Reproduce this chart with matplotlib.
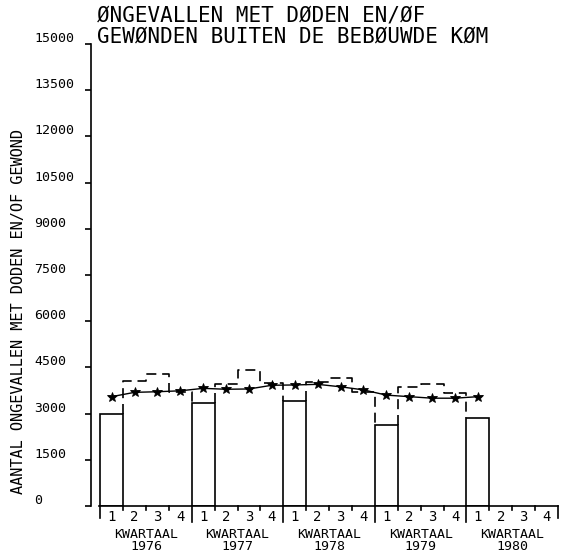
import matplotlib
matplotlib.use("Agg")
import matplotlib.pyplot as plt
import matplotlib.transforms as mtrans
import numpy as np

# ---------------------------------------------------------------------------
# Data: accidents with deaths and/or injuries outside built-up areas
# ---------------------------------------------------------------------------
years = ["1976", "1977", "1978", "1979", "1980"]
quarters = ["1", "2", "3", "4"]

# first-quarter counts (solid bars)
q1_counts = [2980, 3350, 3400, 2640, 2850]

# quarters 2-4 (dashed outline), for 1976-1979
q2_counts = [4070, 3960, 4020, 3870]
q3_counts = [4290, 4420, 4150, 3960]
q4_counts = [3710, 4000, 3710, 3660]

# smoothed trend, one value per quarter from 1976-Q1 up to 1980-Q1
trend = [3550, 3690, 3710, 3740,
         3820, 3790, 3800, 3920,
         3930, 3950, 3870, 3770,
         3600, 3550, 3500, 3500,
         3550]

y_ticks = [0, 1500, 3000, 4500, 6000, 7500, 9000, 10500, 12000, 13500, 15000]

TITLE = "ØNGEVALLEN MET DØDEN EN/ØF\nGEWØNDEN BUITEN DE BEBØUWDE KØM"
YLABEL = "AANTAL ONGEVALLEN MET DODEN EN/OF GEWOND"

MONO = "DejaVu Sans Mono"
INK = "black"
LW = 1.2

W, H = 572, 553
fig = plt.figure(figsize=(W / 100, H / 100), dpi=100, facecolor="white")

# axes: y axis at x=91px, 0 at y=506px, 15000 at y=44px
ax = fig.add_axes([91 / W, 47 / H, 468 / W, 462 / H])
ax.set_xlim(-0.4, 20.04)
ax.set_ylim(0, 15000)
ax.set_facecolor("white")
for side in ("top", "right", "bottom"):
    ax.spines[side].set_visible(False)
ax.spines["left"].set_linewidth(LW)
ax.spines["left"].set_color(INK)
ax.set_xticks([])
ax.set_yticks(y_ticks)
ax.set_yticklabels([])
ax.tick_params(axis="y", direction="out", length=4.5, width=LW, color=INK)

# y tick labels, left-aligned and sitting a little above their ticks
lab_tr = mtrans.blended_transform_factory(fig.transFigure, ax.transData)
lab_tr = lab_tr + mtrans.ScaledTranslation(0, 4 / 72, fig.dpi_scale_trans)
for v in y_ticks:
    fig.text(34 / W, v, str(v), transform=lab_tr, ha="left", va="center",
             family=MONO, fontsize=9.5, color=INK)

# pixel -> data height below the baseline
px = 15000 / 462.0

# --- first-quarter bars ---
q1_x = [4 * i for i in range(len(years))]
ax.bar(q1_x, q1_counts, width=1.0, align="edge", fill=False,
       edgecolor=INK, linewidth=LW, zorder=3)

# --- quarters 2-4 as dashed step outline between consecutive Q1 bars ---
for i in range(len(q2_counts)):
    x0 = 4 * i
    xs = [x0 + 1, x0 + 1, x0 + 2, x0 + 2, x0 + 3, x0 + 3, x0 + 4, x0 + 4]
    ys = [q1_counts[i], q2_counts[i], q2_counts[i], q3_counts[i],
          q3_counts[i], q4_counts[i], q4_counts[i], q1_counts[i + 1]]
    ax.plot(xs, ys, color=INK, linewidth=LW, linestyle=(0, (6, 3.5)), zorder=2)

# --- trend line with star markers at quarter centres ---
tx = np.arange(len(trend)) + 0.5
ax.plot(tx, trend, color=INK, linewidth=1.0, marker="*", markersize=7.5,
        markeredgewidth=0.6, zorder=4)

# --- quarter / year scale below the plot ---
ax.plot([-0.07, 20.0], [0, 0], color=INK, linewidth=LW, clip_on=False)
for k in range(21):
    if k in (0, 20):
        depth = 12
    elif k % 4 == 0:
        depth = 16
    else:
        depth = 4
    ax.plot([k, k], [0, -depth * px], color=INK, linewidth=LW, clip_on=False)

for yi, yr in enumerate(years):
    for qi, q in enumerate(quarters):
        ax.text(4 * yi + qi + 0.5, -11 * px, q, ha="center", va="center",
                family=MONO, fontsize=10, color=INK, clip_on=False)
    ax.text(4 * yi + 2, -28 * px, "KWARTAAL", ha="center", va="center",
            family=MONO, fontsize=9.5, color=INK, clip_on=False)
    ax.text(4 * yi + 2, -40 * px, yr, ha="center", va="center",
            family=MONO, fontsize=9.5, color=INK, clip_on=False)

# --- titles ---
fig.text(97 / W, 1 - 26 / H, TITLE, ha="left", va="center", family=MONO,
         fontsize=15, color=INK, linespacing=1.1)
fig.text(19 / W, 1 - 312 / H, YLABEL, ha="center", va="center", rotation=90,
         family=MONO, fontsize=11, color=INK)

fig.savefig("out.png", dpi=100, facecolor="white")
